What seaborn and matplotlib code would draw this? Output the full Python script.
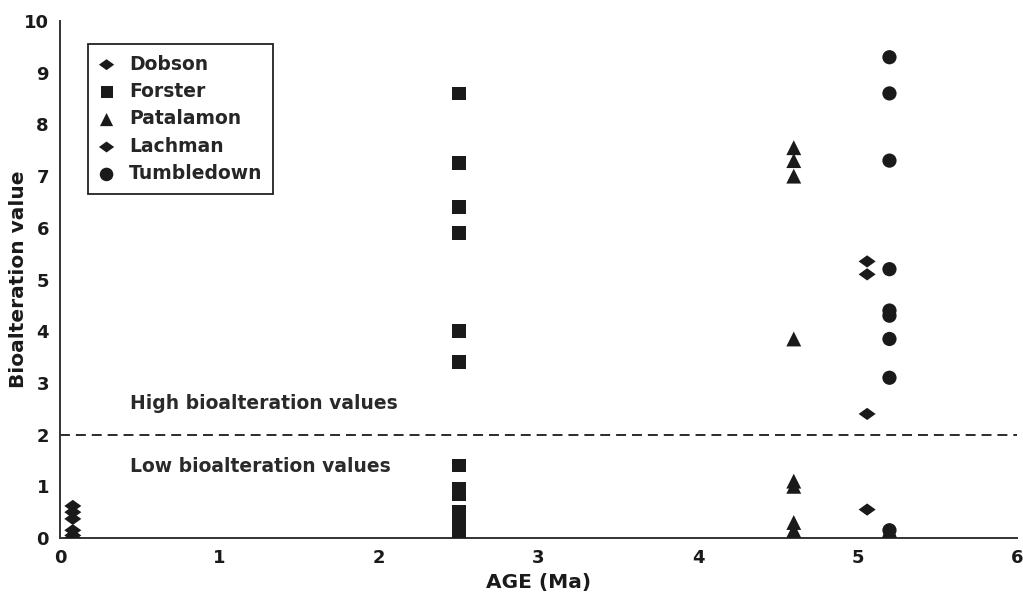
import matplotlib
matplotlib.use("Agg")
import matplotlib.pyplot as plt
import seaborn as sns
import pandas as pd
import numpy as np

# ---- data ----
dobson_age = 0.08
dobson_vals = [0.62, 0.5, 0.37, 0.15, 0.05, 0.0]
forster_age = 2.5
forster_vals = [8.6, 7.25, 6.4, 5.9, 4.0, 3.4, 1.4, 0.95, 0.85, 0.5, 0.4, 0.3, 0.2, 0.1, 0.0]
patalamon_age = 4.6
patalamon_vals = [7.55, 7.3, 7.0, 3.85, 1.1, 1.0, 0.3, 0.15, 0.05, 0.0]
lachman_age = 5.06
lachman_vals = [5.35, 5.1, 2.4, 0.55]
tumbledown_age = 5.2
tumbledown_vals = [9.3, 8.6, 7.3, 5.2, 4.4, 4.3, 3.85, 3.1, 0.15, 0.0]

sites = ["Dobson", "Forster", "Patalamon", "Lachman", "Tumbledown"]
threshold = 2
x_ticks = [0, 1, 2, 3, 4, 5, 6]
y_ticks = [0, 1, 2, 3, 4, 5, 6, 7, 8, 9, 10]

rows = []
for name, age, vals in [("Dobson", dobson_age, dobson_vals),
                        ("Forster", forster_age, forster_vals),
                        ("Patalamon", patalamon_age, patalamon_vals),
                        ("Lachman", lachman_age, lachman_vals),
                        ("Tumbledown", tumbledown_age, tumbledown_vals)]:
    for v in vals:
        rows.append({"site": name, "age": age, "value": v})
df = pd.DataFrame(rows)

sns.set_style("white")
plt.rcParams['font.family'] = ['DejaVu Sans']

diamond = [(-1, 0), (0, 0.72), (1, 0), (0, -0.72), (-1, 0)]
markers = {"Dobson": diamond, "Forster": "s", "Patalamon": "^",
           "Lachman": diamond, "Tumbledown": "o"}
sizes = {"Dobson": 150, "Forster": 95, "Patalamon": 115,
         "Lachman": 150, "Tumbledown": 105}
leg_sizes = {"Dobson": 120, "Forster": 75, "Patalamon": 90,
             "Lachman": 120, "Tumbledown": 95}
ink = "#1a1a1a"

fig = plt.figure(figsize=(10.23, 6.06), dpi=100)
ax = fig.add_axes([0.0587, 0.1122, 0.9355, 0.8531])

handles = []
for s in sites:
    sub = df[df.site == s]
    sns.scatterplot(data=sub, x="age", y="value", marker=markers[s], s=sizes[s],
                    color=ink, edgecolor="none", ax=ax, legend=False, zorder=3)
    h = ax.scatter([], [], marker=markers[s], s=leg_sizes[s], color=ink, edgecolor="none")
    handles.append(h)

ax.axhline(threshold, color=ink, lw=1.3, ls=(0, (5.5, 3.3)), zorder=1)

ax.text(0.44, 2.6, "High bioalteration values", fontsize=13.5, fontweight="bold",
        color="#2a2a2a", ha="left", va="center")
ax.text(0.44, 1.38, "Low bioalteration values", fontsize=13.5, fontweight="bold",
        color="#2a2a2a", ha="left", va="center")

ax.set_xlim(0, 6)
ax.set_ylim(0, 10)
ax.set_xticks(x_ticks)
ax.set_yticks(y_ticks)
ax.tick_params(axis="both", direction="out", length=4, width=1.2, color="#333333",
               labelsize=13, labelcolor=ink, pad=4)
for lab in ax.get_xticklabels() + ax.get_yticklabels():
    lab.set_fontweight("bold")
ax.set_xlabel("AGE (Ma)", fontsize=14.5, fontweight="bold", color=ink, labelpad=4)
ax.set_ylabel("Bioalteration value", fontsize=14.5, fontweight="bold", color=ink)
ax.yaxis.set_label_coords(-0.033, 0.5)

sns.despine(ax=ax)
for sp in ["left", "bottom"]:
    ax.spines[sp].set_color("#333333")
    ax.spines[sp].set_linewidth(1.4)

leg = ax.legend(handles, sites, loc="upper left", bbox_to_anchor=(0.029, 0.955),
                borderaxespad=0, frameon=True, fancybox=False, edgecolor="#222222",
                framealpha=1, handlelength=0.9, handletextpad=0.75,
                labelspacing=0.45, borderpad=0.55,
                prop={"weight": "bold", "size": 13.5})
leg.get_frame().set_linewidth(1.3)

fig.savefig("out.png", dpi=100)
